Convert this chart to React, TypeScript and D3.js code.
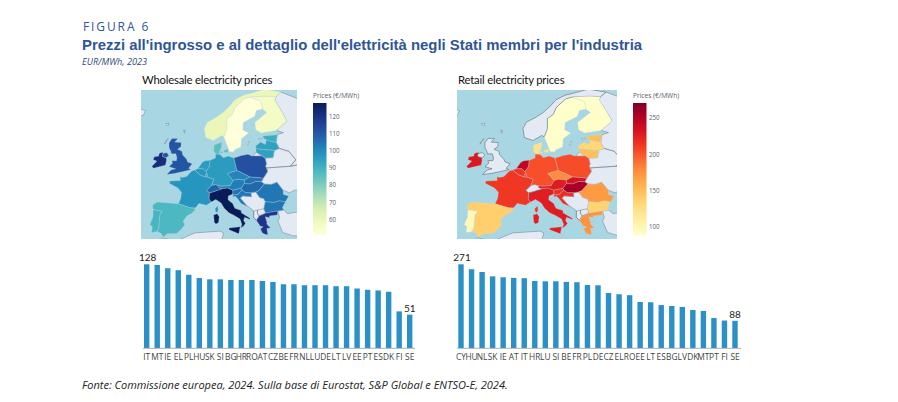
import React from "react";
import * as d3 from "d3";

type Pt = [number, number];

// ---- bar data ----
const wholesaleCodes = ["IT","MT","IE","EL","PL","HU","SK","SI","BG","HR","RO","AT","CZ","BE","FR","NL","LU","DE","LT","LV","EE","PT","ES","DK","FI","SE"];
const wholesaleValues = [128,127,122,119,112,107,105,105,104,104,104,102.5,101,97.5,97.5,96,96,96,94.5,94.5,91,89,88,86,56,51];
const retailCodes = ["CY","HU","NL","SK","IE","AT","IT","HR","LU","SI","BE","FR","PL","DE","CZ","EL","RO","EE","LT","ES","BG","LV","DK","MT","PT","FI","SE"];
const retailValues = [271,255,246,232,229,227,226,217,216,216,214,213,204,203,178,174,171,149,148,139,136,133,123,120,97,89,88];
// map-only values (not in the bars)
const wholesaleExtraCodes = ["UK","NI","CH","NO"];
const wholesaleExtraValues = [111,111,108,60];
const wholesaleTicks = [60,70,80,90,100,110,120];
const retailTicks = [100,150,200,250];

// ---- country outlines, [lon, lat] ----
const outlines: Record<string, Pt[][]> = {
  IE: [[[-6.3,52.2],[-7,52.1],[-8.4,51.8],[-9.8,51.5],[-10.3,52],[-9.6,52.6],[-9,53.2],[-10.1,53.5],[-9.9,54.2],[-8.5,54.4],[-8.6,54.7],[-8.3,55.1],[-7.3,55.3],[-7.3,55],[-7.5,54.6],[-7.3,54.2],[-6.6,54.1],[-6.2,53.9],[-6.1,53.3]]],
  NI: [[[-7.3,55],[-6.2,55.2],[-5.5,54.5],[-6.2,54],[-6.6,54.1],[-7.3,54.2],[-7.5,54.6]]],
  UK: [[[-5.7,50.1],[-3.5,50.3],[-1.2,50.7],[1.4,51.2],[0.7,51.5],[1.7,52.6],[0.3,53],[-0.1,53.7],[-1.3,54.6],[-1.6,55.5],[-3,56],[-2,56.6],[-2,57.6],[-4,57.7],[-3.1,58.6],[-5,58.6],[-5.8,57.5],[-5.6,56.3],[-5,55.5],[-4.8,54.9],[-3.4,54.9],[-3,53.9],[-3.1,53.3],[-4.5,53.3],[-4.2,52.7],[-5.2,51.9],[-3.2,51.4],[-4.5,51.1]]],
  FR: [[[-1.8,43.4],[-1.2,44.7],[-1.1,46],[-2.2,47],[-4.7,48],[-4.7,48.6],[-1.6,48.7],[-1.7,49.7],[-1.2,49.4],[0.2,49.6],[1.6,50.9],[2.5,51.1],[4.2,50],[5.8,49.5],[6.4,49.5],[8.2,49],[7.6,47.6],[6.2,46.4],[7,45.9],[6.9,44.5],[7.5,43.8],[6.2,43.1],[4,43.5],[3.1,42.5],[1.7,42.5]],[[8.6,42.3],[9.4,43],[9.5,42],[9.2,41.4],[8.7,41.7]]],
  ES: [[[-1.8,43.4],[1.7,42.5],[3.2,42.3],[2.1,41.3],[0.7,40.7],[-0.3,39.5],[0.2,38.7],[-0.7,37.7],[-2,36.8],[-4.5,36.7],[-5.6,36],[-6.4,36.9],[-7.4,37.2],[-7,38.2],[-7,39.6],[-6.9,41],[-6.3,41.7],[-8.2,42],[-8.9,42.2],[-9.2,43.1],[-7.9,43.8]]],
  PT: [[[-8.9,42],[-8.2,42],[-6.3,41.7],[-6.9,41],[-7,39.6],[-7,38.2],[-7.4,37.2],[-8.9,37],[-8.8,38.3],[-9.5,38.8],[-8.8,40.5]]],
  IT: [[[7.5,43.8],[8.8,44.4],[10.3,43.6],[11.2,42.4],[12.5,41.4],[14,40.8],[15.6,40],[16.1,38.8],[15.7,38],[16.5,38.4],[17.1,39],[16.6,39.7],[16.9,40.4],[18.4,39.9],[18.4,40.2],[16,41.4],[16,41.9],[14.2,42.4],[13.6,43.5],[12.3,44.3],[12.4,45.2],[13.7,45.6],[13.7,46.5],[12.2,47],[10.5,46.9],[9.3,46.5],[8.4,46.2],[7,45.9],[6.9,44.5]],[[12.5,38],[15.6,38.3],[15.2,36.7],[12.5,37.6]],[[8.2,40.9],[9.2,41.2],[9.8,40.5],[9.6,39.2],[8.9,38.9],[8.4,39.2]]],
  CH: [[[6.2,46.4],[7,45.9],[8.4,46.2],[9.3,46.5],[10.4,46.6],[9.6,47.5],[8.6,47.8],[7.6,47.6]]],
  DE: [[[7,53.4],[8.6,53.9],[8.7,54.9],[9.9,54.8],[11,54],[12.5,54.4],[14.2,53.9],[14.6,52.5],[15,51],[12.2,50.3],[13.8,48.7],[13,47.5],[10.5,47.4],[9.6,47.5],[8.6,47.8],[7.6,47.6],[8.2,49],[6.4,49.5],[6.1,50.2],[6.1,50.3],[5.8,50.8],[6,51],[6.8,51.9]]],
  NL: [[[3.4,51.4],[4.7,52.9],[5.5,53.3],[7,53.4],[6.8,51.9],[6,51],[5.8,50.8],[5,51.4]]],
  BE: [[[2.5,51.1],[3.4,51.4],[5,51.4],[5.8,50.8],[6.1,50.3],[5.8,50.1],[5.8,49.5],[4.2,50]]],
  LU: [[[5.8,49.5],[6.4,49.5],[6.1,50.2],[5.8,50.1]]],
  DK: [[[8.7,54.9],[8.1,55.6],[8.2,57],[10.6,57.7],[10.4,56.3],[9.8,55.4],[9.9,54.8]],[[11.1,55.7],[12.5,56.1],[12.4,55.2],[11.2,55.2]],[[10,55.5],[10.8,55.4],[10.6,55],[9.9,55.2]]],
  PL: [[[14.2,53.9],[16.5,54.5],[18.5,54.8],[19.6,54.4],[22.8,54.4],[23.6,53.9],[23.9,52.6],[23.6,52],[24.1,50.8],[22.7,49.2],[20.9,49.4],[18.8,49.5],[16.9,50.3],[15,51],[14.6,52.5]]],
  CZ: [[[12.2,50.3],[15,51],[16.9,50.3],[18.8,49.5],[17.1,48.8],[15,49],[13.8,48.7]]],
  SK: [[[17.1,48.8],[18.8,49.5],[20.9,49.4],[22.7,49.2],[22.1,48.4],[20.5,48.5],[18.8,47.9],[17.1,48]]],
  AT: [[[9.6,47.5],[10.5,47.4],[13,47.5],[13.8,48.7],[15,49],[17.1,48.8],[17.1,48],[16.1,46.9],[13.7,46.5],[12.2,47],[10.5,46.9],[9.6,47]]],
  HU: [[[16.1,46.9],[17.1,48],[18.8,47.9],[20.5,48.5],[22.1,48.4],[22.9,47.9],[21.1,46.3],[20.3,46.1],[18.9,45.9],[17.3,45.9],[16.4,46.5]]],
  SI: [[[13.7,46.5],[16.1,46.9],[16.4,46.5],[15.5,45.9],[15.2,45.5],[13.6,45.5],[13.7,45.6]]],
  HR: [[[13.6,45.5],[15.2,45.5],[15.5,45.9],[16.4,46.5],[17.3,45.9],[18.9,45.9],[19,45],[16.5,45.2],[15.8,44.7],[17.6,43],[18.5,42.5],[16,43.5],[14.9,44.7],[14.3,45.2],[13.9,44.9]]],
  RO: [[[20.3,46.1],[21.1,46.3],[22.9,47.9],[24.9,47.8],[26.6,48.3],[28.2,46.5],[28.2,45.5],[29.7,45.2],[28.6,43.8],[27,44.1],[25.3,43.7],[22.9,43.9],[22.5,44.6],[21.4,44.8]]],
  BG: [[[22.9,43.9],[25.3,43.7],[27,44.1],[28.6,43.8],[27.7,42.6],[28,42],[26.3,41.8],[24,41.5],[22.9,41.3],[22.4,42.3]]],
  EL: [[[20.2,39.7],[21,40.7],[22.9,41.3],[24,41.5],[26.3,41.8],[26.1,40.9],[23.8,40.7],[24,40.3],[22.7,40.5],[23.1,39.2],[23,38.9],[24,38],[23,37.9],[23.2,36.5],[22.4,36.6],[21.7,36.9],[21.2,37.8],[22,38.3],[21.2,38.4],[20.7,39]],[[23.6,35.5],[24.3,35.4],[26.3,35.2],[24.8,34.9],[23.6,35.2]]],
  SE: [[[11.2,59],[12,60.5],[12.2,61],[12.2,63.5],[14,64.5],[15,66.3],[18,68.5],[20.1,69],[23.7,67.9],[24.1,65.9],[22,65.5],[21.2,64],[17.5,62.5],[17.2,60.7],[19,59.9],[16.7,58.5],[16.4,56.5],[14.5,55.9],[14.2,55.4],[12.9,55.4],[12.5,56.3]]],
  NO: [[[11.2,59],[10.5,59.3],[8,58.1],[5.5,58.8],[5,61],[6,62.6],[8.5,63.7],[10.8,64.9],[13,66.5],[15,68.3],[18,69.5],[21.5,70.2],[25.5,71.1],[31,70.3],[29,69.1],[25.7,69.2],[21,69.1],[20.1,69],[18,68.5],[15,66.3],[14,64.5],[12.2,63.5],[12.2,61],[12,60.5]]],
  FI: [[[20.1,69],[21,69.1],[25.7,69.2],[29,69.1],[28.5,68.2],[30,65.7],[31.5,62.9],[27.8,60.5],[23,59.9],[21.3,60.7],[21.2,62.5],[25.3,65],[24.1,65.9],[23.7,67.9]]],
  EE: [[[23.5,59.2],[28,59.5],[27.4,57.6],[25,58],[24.4,58.3],[23.5,58.7]]],
  LV: [[[21,56.8],[21,56.1],[26.6,55.7],[28.2,56.2],[27.4,57.6],[25,58],[24.4,58.3],[24,57.1],[22.6,57.7]]],
  LT: [[[21,56.1],[26.6,55.7],[26,54],[23.6,53.9],[22.8,54.4],[21,55.3]]],
};
// land without any value
const emptyLand: Pt[][] = [
  [[-24,65],[-22,66.4],[-18,66.2],[-14.5,65.5],[-15,64.3],[-19,63.4],[-22.5,63.9]],
  [[-7.4,62.2],[-6.4,62.3],[-6.6,61.6]],
  [[-1.5,60.6],[-1,60.6],[-1.2,59.9]],
  [[-6.5,58.4],[-6.1,58.5],[-7.2,57.2]],
  [[-6,35.8],[-2,35.1],[3,36.9],[10,37.3],[11,36.9],[10.5,35.5],[11,33],[20,31],[20,20],[-20,20],[-10,33]],
  [[26.3,41.8],[28,42],[29,41.2],[35,42],[42,41.5],[42,36],[36,36],[30,36.3],[27.3,37],[26.2,39.5],[26.7,40.4]],
  [[23.9,52.6],[23.6,53.9],[26,54],[26.6,55.7],[28.2,56.2],[31,55.5],[32.8,53.5],[31,52],[23.9,51.6],[23.6,52]],
  [[24.1,50.8],[22.7,49.2],[22.1,48.4],[22.9,47.9],[24.9,47.8],[26.6,48.3],[28.2,46.5],[30,45.9],[31.5,46.5],[36,46.8],[40,48],[40,50],[34,52.4],[31,52],[23.9,51.6]],
  [[28,59.5],[30,60],[28,60.5],[27.8,60.5],[31.5,62.9],[30,65.7],[28.5,68.2],[29,69.1],[31,70.3],[41,67],[45,68],[48,60],[48,50],[40,50],[34,52.4],[31,52],[32.8,53.5],[31,55.5],[28.2,56.2],[27.4,57.6]],
  [[20,54.4],[22.8,54.4],[21,55.3]],
  [[19,45],[18.9,45.9],[20.3,46.1],[21.4,44.8],[22.5,44.6],[22.9,43.9],[22.4,42.3],[22.9,41.3],[21,40.7],[20.2,39.7],[19.4,40.4],[19.5,41.8],[18.5,42.5],[17.6,43],[15.8,44.7],[16.5,45.2]],
  [[22.9,41.3],[21,40.7],[20.5,41.3],[20.6,42],[22.4,42.3]],
  [[19.5,41.8],[19.4,40.4],[20.2,39.7],[21,40.7],[20.5,41.3],[20.6,42]],
];
const balticIslands: Pt[][] = [
  [[18.2,57.3],[19,57.9],[18.6,56.9]],
  [[22,58.5],[23.2,58.6],[22.6,58.1]],
];

const WIDTH = 898;
const HEIGHT = 402;
const OCEAN = "#a9d6e3";
const LAND = "#e4eaf4";
const BAR = "#2b90c6";

function ring(pts: Pt[]): Pt[] {
  const closed = [...pts, pts[0]];
  const g = { type: "Polygon", coordinates: [closed] } as any;
  return d3.geoArea(g) > 2 * Math.PI ? closed.slice().reverse() : closed;
}
function multi(polys: Pt[][]): any {
  return { type: "MultiPolygon", coordinates: polys.map((p) => [ring(p)]) };
}

function GeoMap(props: {
  id: string; x0: number; x1: number; y0: number; y1: number;
  sx: number; cx: number; cy: number;
  color: (v: number) => string; values: Map<string, number>;
}) {
  const { id, x0, x1, y0, y1, sx, cx, cy, color, values } = props;
  const base = d3.geoNaturalEarth1().rotate([-10, 0]).scale(255).translate([0, 0]);
  const stretch = d3.geoTransform({
    point(x: number, y: number) {
      (this as any).stream.point(x * sx + cx, y + cy);
    },
  });
  const proj: any = { stream: (s: any) => base.stream(stretch.stream(s)) };
  const path = d3.geoPath(proj);
  return (
    <g>
      <clipPath id={id}><rect x={x0} y={y0} width={x1 - x0} height={y1 - y0} /></clipPath>
      <g clipPath={`url(#${id})`}>
        <rect x={x0} y={y0} width={x1 - x0} height={y1 - y0} fill={OCEAN} />
        <path d={path(multi(emptyLand)) || ""} fill={LAND} stroke="#5a6670" strokeWidth={0.4} />
        <path d={path(multi(balticIslands)) || ""} fill={LAND} stroke="#5a6670" strokeWidth={0.3} />
        {Object.keys(outlines).map((k) => {
          const v = values.get(k);
          return (
            <path key={k} d={path(multi(outlines[k])) || ""}
              fill={v === undefined ? LAND : color(v)}
              stroke={v === undefined ? "#4a5660" : "#c9d6e2"}
              strokeWidth={v === undefined ? 0.5 : 0.3} />
          );
        })}
      </g>
    </g>
  );
}

function ColorBar(props: { id: string; x: number; y0: number; y1: number; domain: [number, number]; ticks: number[]; color: (v: number) => string }) {
  const { id, x, y0, y1, domain, ticks, color } = props;
  const y = d3.scaleLinear().domain(domain).range([y1, y0]);
  const stops = d3.range(0, 11).map((i) => i / 10);
  return (
    <g>
      <linearGradient id={id} x1="0" y1="1" x2="0" y2="0">
        {stops.map((t) => (
          <stop key={t} offset={t} stopColor={color(domain[0] + t * (domain[1] - domain[0]))} />
        ))}
      </linearGradient>
      <rect x={x} y={y0} width={13.5} height={y1 - y0} fill={`url(#${id})`} />
      <text x={x} y={y0 - 5} fontFamily="'Open Sans'" fontSize={6.6} fill="#55606c">Prices (€/MWh)</text>
      {ticks.map((t) => (
        <text key={t} x={x + 16} y={y(t) + 2.2} fontFamily="'Open Sans'" fontSize={6.2} fill="#55606c">{t}</text>
      ))}
    </g>
  );
}

function Bars(props: {
  codes: string[]; values: number[]; x0: number; x1: number; axisX0: number; axisX1: number;
}) {
  const { codes, values, x0, x1, axisX0, axisX1 } = props;
  const x = d3.scalePoint<string>().domain(codes).range([x0, x1]);
  const y = d3.scaleLinear().domain([0, d3.max(values) as number]).range([348, 264.3]);
  const last = codes.length - 1;
  return (
    <g>
      {codes.map((c, i) => (
        <rect key={c} x={(x(c) as number) - 2.7} y={y(values[i])} width={5.4} height={348 - y(values[i])} fill={BAR} />
      ))}
      <line x1={axisX0} x2={axisX1} y1={348.3} y2={348.3} stroke="#9a9a9a" strokeWidth={0.8} />
      {codes.map((c) => (
        <text key={c} x={x(c) as number} y={360} textAnchor="middle" fontFamily="'Open Sans'" fontSize={8.4} fill="#444">{c}</text>
      ))}
      <text x={x0 + 1} y={261} textAnchor="middle" fontFamily="Lato" fontSize={10} fill="#222">{values[0]}</text>
      <text x={x1} y={y(values[last]) - 3} textAnchor="middle" fontFamily="Lato" fontSize={10} fill="#222">{values[last]}</text>
    </g>
  );
}

export default function App() {
  const wDomain: [number, number] = [51, 128];
  const rDomain: [number, number] = [88, 271];
  const wScale = d3.scaleLinear().domain(wDomain).range([0, 1]);
  const rScale = d3.scaleLinear().domain(rDomain).range([0, 1]);
  const wColor = (v: number) => d3.interpolateYlGnBu(wScale(v));
  const rColor = (v: number) => d3.interpolateYlOrRd(rScale(v));
  const wValues = new Map<string, number>();
  wholesaleCodes.forEach((c, i) => wValues.set(c, wholesaleValues[i]));
  wholesaleExtraCodes.forEach((c, i) => wValues.set(c, wholesaleExtraValues[i]));
  const rValues = new Map<string, number>();
  retailCodes.forEach((c, i) => rValues.set(c, retailValues[i]));

  return (
    <svg width={WIDTH} height={HEIGHT} viewBox={`0 0 ${WIDTH} ${HEIGHT}`}
      style={{ position: "absolute", left: 0, top: 0, background: "#fff" }}>
      <text x={83} y={31} fontFamily="'Open Sans'" fontSize={12} letterSpacing={1.9} fill="#2f5597">FIGURA 6</text>
      <text x={82} y={50} fontFamily="'Liberation Sans'" fontWeight="bold" fontSize={14.9} fill="#2f5597">Prezzi all'ingrosso e al dettaglio dell'elettricità negli Stati membri per l'industria</text>
      <text x={82} y={65} fontFamily="'Open Sans'" fontStyle="italic" fontSize={9.2} fill="#2f4a7a">EUR/MWh, 2023</text>

      <text x={142} y={84} fontFamily="Lato" fontSize={11.3} letterSpacing={-0.2} fill="#111">Wholesale electricity prices</text>
      <text x={458} y={84} fontFamily="Lato" fontSize={11.3} letterSpacing={-0.2} fill="#111">Retail electricity prices</text>

      <GeoMap id="mapW" x0={141} x1={297} y0={90} y1={239} sx={1} cx={220} cy={399} color={wColor} values={wValues} />
      <GeoMap id="mapR" x0={457} x1={617} y0={90} y1={239} sx={1.08} cx={540} cy={399} color={rColor} values={rValues} />

      <ColorBar id="gradW" x={313} y0={103} y1={235} domain={wDomain} ticks={wholesaleTicks} color={wColor} />
      <ColorBar id="gradR" x={633} y0={103} y1={235.5} domain={rDomain} ticks={retailTicks} color={rColor} />

      <Bars codes={wholesaleCodes} values={wholesaleValues} x0={146.7} x1={409.7} axisX0={143} axisX1={415} />
      <Bars codes={retailCodes} values={retailValues} x0={461} x1={735} axisX0={457} axisX1={741} />

      <text x={82} y={389} fontFamily="'Open Sans'" fontStyle="italic" fontSize={11} fill="#222">Fonte: Commissione europea, 2024. Sulla base di Eurostat, S&amp;P Global e ENTSO-E, 2024.</text>
    </svg>
  );
}
